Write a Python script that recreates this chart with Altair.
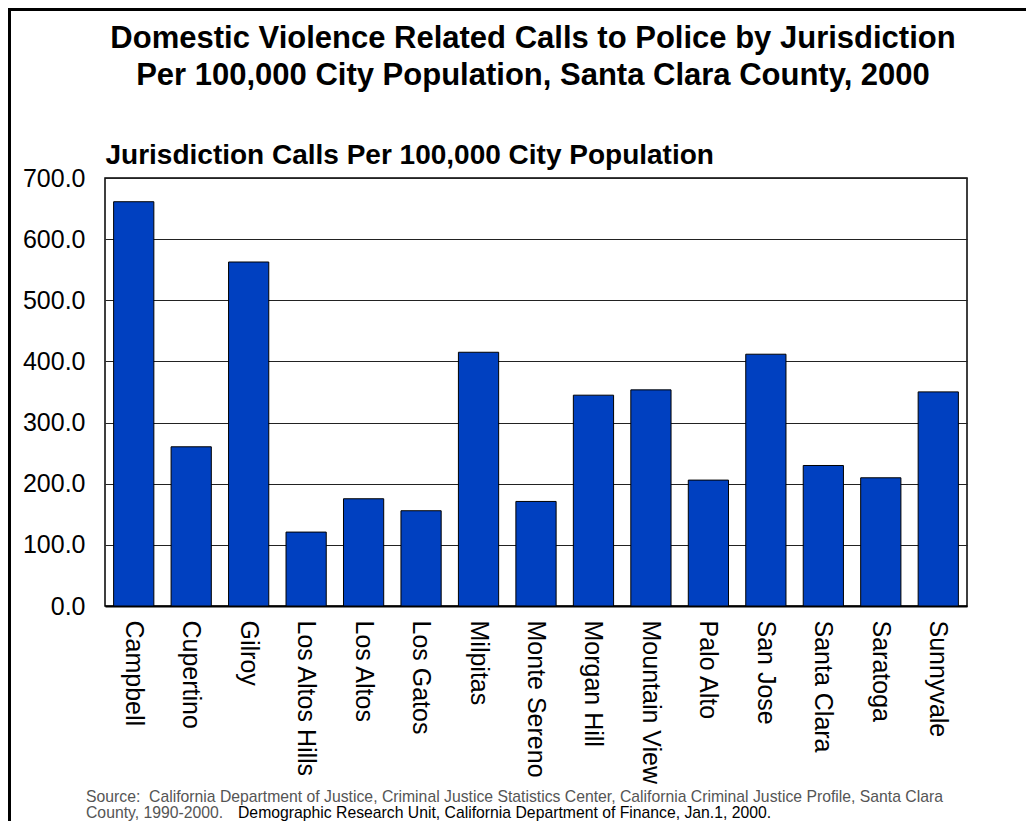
import altair as alt
import pandas as pd

# ---- data ----
cities = ["Campbell", "Cupertino", "Gilroy", "Los Altos Hills", "Los Altos",
          "Los Gatos", "Milpitas", "Monte Sereno", "Morgan Hill", "Mountain View",
          "Palo Alto", "San Jose", "Santa Clara", "Saratoga", "Sunnyvale"]
calls = [661.2, 260.4, 562.6, 120.9, 175.4, 155.8, 415.0, 171.0,
         344.8, 353.5, 205.9, 411.8, 229.8, 209.7, 350.2]
y_ticks = [0, 100, 200, 300, 400, 500, 600, 700]

title_line1 = "Domestic Violence Related Calls to Police by Jurisdiction"
title_line2 = "Per 100,000 City Population, Santa Clara County, 2000"
axis_heading = "Jurisdiction Calls Per 100,000 City Population"
source_line1 = ("Source:\u00a0 California Department of Justice, Criminal Justice Statistics Center, "
                "California Criminal Justice Profile, Santa Clara")
source_line2a = "County, 1990-2000."
source_line2b = "Demographic Research Unit, California Department of Finance, Jan.1, 2000."

FONT = "Liberation Sans"
W, H = 862, 428
PAD = {"left": 97, "top": 170, "right": 59, "bottom": 215}

df = pd.DataFrame({"city": cities, "calls": calls})

bars = alt.Chart(df).mark_bar(
    color="#0040C0", stroke="#000000", strokeWidth=1
).encode(
    x=alt.X("city:N", sort=None,
            scale=alt.Scale(paddingInner=0.3, paddingOuter=0.15),
            axis=alt.Axis(title=None, labelAngle=90, labelAlign="left",
                          labelBaseline="middle", labelPadding=14,
                          labelFontSize=25, labelFont=FONT, labelColor="#000000",
                          ticks=False, domain=True, domainColor="#000000",
                          domainWidth=2, labelOverlap=False)),
    y=alt.Y("calls:Q",
            scale=alt.Scale(domain=[0, 700], nice=False, zero=True),
            axis=alt.Axis(values=y_ticks, format=".1f", title=axis_heading,
                          titleAngle=0, titleAlign="left", titleBaseline="alphabetic",
                          titleX=0, titleY=-15, titleFontSize=28, titleFont=FONT,
                          titleFontWeight="bold", titleColor="#000000",
                          labelFontSize=25, labelFont=FONT, labelColor="#000000",
                          labelPadding=20, ticks=False, domain=False,
                          grid=True, gridColor="#222222", gridWidth=1)),
)

one = pd.DataFrame({"k": [0]})


def text_layer(txt, x, y, size, color, weight="normal", align="left"):
    return alt.Chart(one).mark_text(
        text=txt, font=FONT, fontSize=size, color=color, fontWeight=weight,
        align=align, baseline="alphabetic"
    ).encode(x=alt.value(x), y=alt.value(y))


t1 = text_layer(title_line1, W / 2 - 3, -130, 31, "#000000", "bold", "center")
t2 = text_layer(title_line2, W / 2 - 3, -93, 31, "#000000", "bold", "center")
src1 = text_layer(source_line1, -19, 624, 15.75, "#555555")
src2a = text_layer(source_line2a, -19, 640, 15.75, "#555555")
src2b = text_layer(source_line2b, 133, 640, 15.75, "#000000")

frame_left = alt.Chart(one).mark_rule(color="#000000", strokeWidth=3).encode(
    x=alt.value(-95.5), y=alt.value(-170), y2=alt.value(H + PAD["bottom"]))
frame_top = alt.Chart(one).mark_rule(color="#000000", strokeWidth=3).encode(
    x=alt.value(-97), x2=alt.value(W + PAD["right"]), y=alt.value(-168.5))

chart = alt.layer(bars, t1, t2, src1, src2a, src2b, frame_left, frame_top).properties(
    width=W, height=H,
    autosize=alt.AutoSizeParams(type="none"),
    padding=PAD,
    background="#FFFFFF",
).configure_view(stroke="#000000", strokeWidth=1.5)

chart.save("out.html", embed_options={"renderer": "svg", "actions": False})
